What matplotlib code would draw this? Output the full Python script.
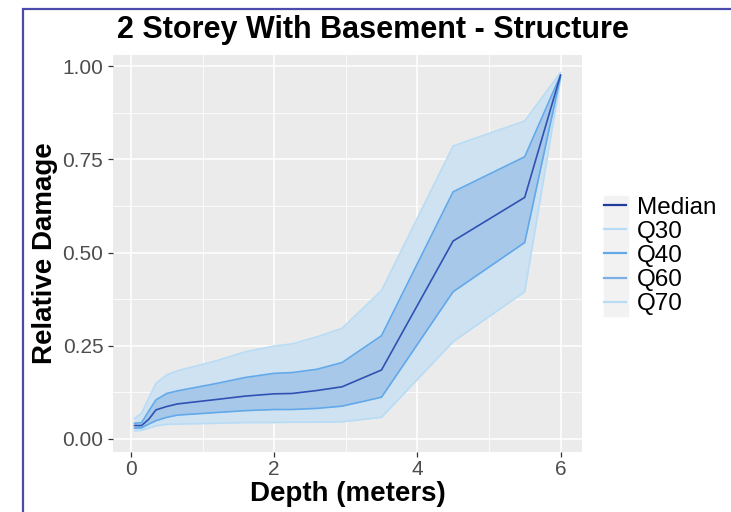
import numpy as np
from matplotlib import pyplot as plt
from matplotlib.lines import Line2D
from matplotlib.patches import Rectangle

# depth points and damage curves
depth = [0.05, 0.15, 0.25, 0.35, 0.5, 0.65, 1.2, 1.6, 2.0, 2.25, 2.6, 2.95, 3.5, 4.5, 5.5, 6.0]
median = [0.036, 0.036, 0.053, 0.078, 0.087, 0.094, 0.106, 0.115, 0.121, 0.122, 0.130, 0.140, 0.185, 0.531, 0.648, 0.976]
q30 = [0.022, 0.023, 0.029, 0.035, 0.039, 0.040, 0.042, 0.044, 0.044, 0.045, 0.045, 0.046, 0.058, 0.261, 0.395, 0.965]
q40 = [0.029, 0.030, 0.040, 0.049, 0.058, 0.064, 0.071, 0.076, 0.079, 0.079, 0.082, 0.088, 0.112, 0.395, 0.527, 0.972]
q60 = [0.042, 0.044, 0.075, 0.105, 0.122, 0.129, 0.149, 0.165, 0.176, 0.178, 0.187, 0.205, 0.277, 0.663, 0.757, 0.976]
q70 = [0.055, 0.069, 0.110, 0.149, 0.172, 0.183, 0.210, 0.234, 0.249, 0.255, 0.274, 0.297, 0.398, 0.786, 0.853, 0.983]

xticks = [0, 2, 4, 6]
yticks = [0.0, 0.25, 0.5, 0.75, 1.0]

plt.rcParams['font.family'] = ['Liberation Sans', 'DejaVu Sans']

c_med = '#2f52b2'
c_out = '#b8dcf5'
c_in = '#62a9ea'

fig = plt.figure(figsize=(7.31, 5.12), dpi=100)
ax = fig.add_axes([113 / 731, 60 / 512, 469 / 731, 397 / 512])
ax.set_facecolor('#ebebeb')

ax.fill_between(depth, q30, q70, color='#cfe2f1', lw=0, zorder=2)
ax.fill_between(depth, q40, q60, color='#a8c8ea', lw=0, zorder=3)
ax.plot(depth, q30, color=c_out, lw=1.2, zorder=4)
ax.plot(depth, q70, color=c_out, lw=1.2, zorder=4)
ax.plot(depth, q40, color=c_in, lw=1.2, zorder=5)
ax.plot(depth, q60, color=c_in, lw=1.2, zorder=5)
ax.plot(depth, median, color=c_med, lw=1.2, zorder=6)

ax.set_xlim(-0.25, 6.3)
ax.set_ylim(-0.035, 1.03)
ax.set_xticks(xticks)
ax.set_yticks(yticks)
ax.set_yticklabels(['0.00', '0.25', '0.50', '0.75', '1.00'])
ax.set_xticks([1, 3, 5], minor=True)
ax.set_yticks([0.125, 0.375, 0.625, 0.875], minor=True)
ax.grid(which='major', color='white', lw=1.1, zorder=1)
ax.grid(which='minor', color='white', lw=0.55, zorder=1)
ax.set_axisbelow(True)
for s in ax.spines.values():
    s.set_visible(False)
ax.tick_params(which='major', length=3.5, width=0.9, color='#333333',
               labelsize=15, labelcolor='#4d4d4d', pad=3.5)
ax.tick_params(axis='x', which='major', pad=2)
ax.tick_params(which='minor', length=0)

ax.set_xlabel('Depth (meters)', fontsize=20, fontweight='bold', labelpad=2)
ax.set_ylabel('Relative Damage', fontsize=20, fontweight='bold', labelpad=3)
fig.text(373 / 731, 1 - 30 / 512, '2 Storey With Basement - Structure',
         fontsize=22, fontweight='bold', ha='center', va='center')

# legend with grey key boxes
fig.patches.append(Rectangle((604 / 731, 1 - 316 / 512), 24 / 731, 120 / 512,
                             transform=fig.transFigure, color='#f2f2f2', zorder=0))
handles = [Line2D([], [], color='#1f3c9e', lw=1.6),
           Line2D([], [], color=c_out, lw=1.6),
           Line2D([], [], color=c_in, lw=1.6),
           Line2D([], [], color='#7ab0e6', lw=1.6),
           Line2D([], [], color=c_out, lw=1.6)]
fig.legend(handles, ['Median', 'Q30', 'Q40', 'Q60', 'Q70'],
           loc='center left', bbox_to_anchor=(599 / 731, 1 - 256 / 512),
           frameon=False, fontsize=17.5, handlelength=0.9, handletextpad=0.45,
           labelspacing=0.09, borderpad=0.2, borderaxespad=0)

# outer frame
fig.patches.append(Rectangle((23 / 731, -0.05), 1.0, 1 - 9 / 512 + 0.05,
                             transform=fig.transFigure, fill=False,
                             edgecolor='#4b4bab', lw=1.6))

fig.savefig('out.png', dpi=100)
